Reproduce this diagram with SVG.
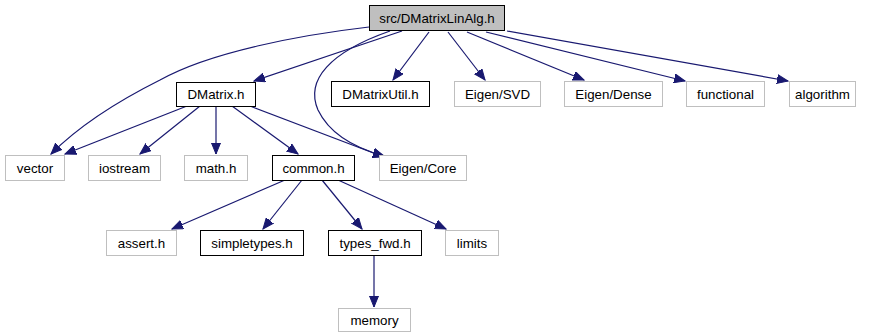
<svg xmlns="http://www.w3.org/2000/svg" width="869" height="336" viewBox="0 0 869 336">
  <style>
    .node rect { stroke-width: 1; }
    .local rect { fill: #ffffff; stroke: #000000; }
    .sys rect { fill: #ffffff; stroke: #bfbfbf; }
    .root rect { fill: #bfbfbf; stroke: #000000; }
    .node text { font-family: "Liberation Sans", Arial, sans-serif; font-size: 13.33px; fill: #000000; text-anchor: middle; }
    .edge { fill: none; stroke: #191970; stroke-width: 1.2; marker-end: url(#arrow); }
  </style>
  <defs>
    <marker id="arrow" markerUnits="userSpaceOnUse" markerWidth="12" markerHeight="10" viewBox="0 0 12 10" refX="11" refY="5" orient="auto">
      <path d="M0,0.5 L11,5 L0,9.5 Z" fill="#191970" stroke="#191970" stroke-width="1"/>
    </marker>
  </defs>

  <!-- include edges -->
  <g id="edges">
    <path class="edge" d="M369,27 C300,35 210,52 160,80 C110,105 75,130 51,154"/>
    <path class="edge" d="M402,31 L254,81"/>
    <path class="edge" d="M390,31 C330,52 305,80 318,110 C330,135 355,148 384,156"/>
    <path class="edge" d="M429,32 L393,80"/>
    <path class="edge" d="M448,32 L485,80"/>
    <path class="edge" d="M467,32 L584,80"/>
    <path class="edge" d="M486,32 L685,81"/>
    <path class="edge" d="M507,31 L788,81"/>

    <path class="edge" d="M187,106 L65,154"/>
    <path class="edge" d="M200,106 L140,154"/>
    <path class="edge" d="M216,106 L216,154"/>
    <path class="edge" d="M232,106 L298,154"/>
    <path class="edge" d="M250,106 L384,157"/>

    <path class="edge" d="M285,180 L172,229"/>
    <path class="edge" d="M302,180 L263,229"/>
    <path class="edge" d="M322,180 L362,229"/>
    <path class="edge" d="M338,180 L446,229"/>

    <path class="edge" d="M374,255 L374,307"/>
  </g>

  <g id="node-DMatrixLinAlg" class="node root">
    <rect x="369.5" y="5.5" width="135" height="25"/>
    <text x="437" y="22.5">src/DMatrixLinAlg.h</text>
  </g>

  <g id="node-DMatrix" class="node local">
    <rect x="176.5" y="82.5" width="79" height="24"/>
    <text x="216" y="99">DMatrix.h</text>
  </g>
  <g id="node-DMatrixUtil" class="node local">
    <rect x="331.5" y="81.5" width="98" height="25"/>
    <text x="380.5" y="98.5">DMatrixUtil.h</text>
  </g>
  <g id="node-EigenSVD" class="node sys">
    <rect x="454.5" y="81.5" width="86" height="25"/>
    <text x="497.5" y="98.5">Eigen/SVD</text>
  </g>
  <g id="node-EigenDense" class="node sys">
    <rect x="564.5" y="81.5" width="98" height="25"/>
    <text x="613.5" y="98.5">Eigen/Dense</text>
  </g>
  <g id="node-functional" class="node sys">
    <rect x="686.5" y="81.5" width="78" height="25"/>
    <text x="725.5" y="98.5">functional</text>
  </g>
  <g id="node-algorithm" class="node sys">
    <rect x="789.5" y="81.5" width="66" height="25"/>
    <text x="822.5" y="98.5">algorithm</text>
  </g>

  <g id="node-vector" class="node sys">
    <rect x="5.5" y="155.5" width="59" height="25"/>
    <text x="35" y="172.5">vector</text>
  </g>
  <g id="node-iostream" class="node sys">
    <rect x="88.5" y="155.5" width="72" height="25"/>
    <text x="124.5" y="172.5">iostream</text>
  </g>
  <g id="node-math" class="node sys">
    <rect x="184.5" y="155.5" width="63" height="25"/>
    <text x="216" y="172.5">math.h</text>
  </g>
  <g id="node-common" class="node local">
    <rect x="272.5" y="155.5" width="82" height="25"/>
    <text x="313.5" y="172.5">common.h</text>
  </g>
  <g id="node-EigenCore" class="node sys">
    <rect x="379.5" y="155.5" width="87" height="25"/>
    <text x="423" y="172.5">Eigen/Core</text>
  </g>

  <g id="node-assert" class="node sys">
    <rect x="106.5" y="230.5" width="70" height="25"/>
    <text x="141.5" y="247.5">assert.h</text>
  </g>
  <g id="node-simpletypes" class="node local">
    <rect x="200.5" y="230.5" width="103" height="25"/>
    <text x="252" y="247.5">simpletypes.h</text>
  </g>
  <g id="node-types_fwd" class="node local">
    <rect x="328.5" y="230.5" width="93" height="25"/>
    <text x="375" y="247.5">types_fwd.h</text>
  </g>
  <g id="node-limits" class="node sys">
    <rect x="445.5" y="230.5" width="53" height="25"/>
    <text x="472" y="247.5">limits</text>
  </g>

  <g id="node-memory" class="node sys">
    <rect x="338.5" y="308.5" width="72" height="23"/>
    <text x="374.5" y="324.5">memory</text>
  </g>
</svg>
